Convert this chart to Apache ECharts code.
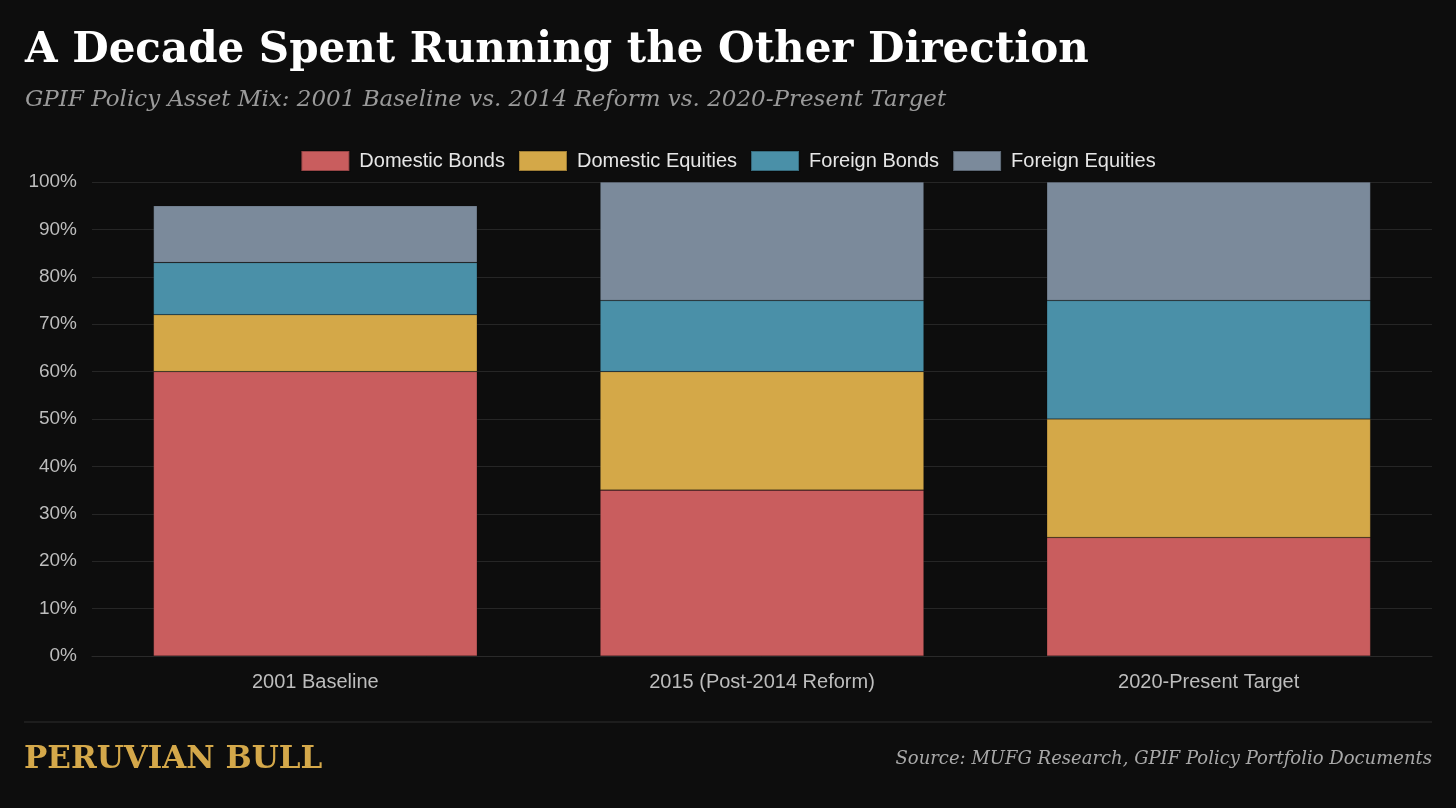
<!DOCTYPE html>
<html><head><meta charset="utf-8">
<script src="https://cdn.jsdelivr.net/npm/echarts@6/dist/echarts.min.js"></script>
<style>html,body{margin:0;padding:0;background:#0d0d0d;}#c{width:1456px;height:808px;}</style>
</head><body><div id="c"></div>
<script>
const categories = ['2001 Baseline', '2015 (Post-2014 Reform)', '2020-Present Target'];
const domesticBonds = [60, 35, 25];
const domesticEquities = [12, 25, 25];
const foreignBonds = [11, 15, 25];
const foreignEquities = [12, 25, 25];
const seriesNames = ['Domestic Bonds', 'Domestic Equities', 'Foreign Bonds', 'Foreign Equities'];
const colors = ['#c95d5e', '#d4a848', '#4a90a8', '#7b8a9b'];

const chart = echarts.init(document.getElementById('c'));
const data = [domesticBonds, domesticEquities, foreignBonds, foreignEquities];
chart.setOption({
  backgroundColor: '#0d0d0d',
  animation: false,
  title: [
    { text: 'A Decade Spent Running the Other Direction', left: 20, top: 25,
      textStyle: { color: '#ffffff', fontFamily: 'DejaVu Serif', fontWeight: 'bold', fontSize: 42 } },
    { text: 'GPIF Policy Asset Mix: 2001 Baseline vs. 2014 Reform vs. 2020-Present Target', left: 20, top: 84,
      textStyle: { color: '#9a9a9a', fontFamily: 'DejaVu Serif', fontStyle: 'italic', fontWeight: 'normal', fontSize: 23 } },
    { text: 'PERUVIAN BULL', left: 19, top: 739,
      textStyle: { color: '#d4a84a', fontFamily: 'DejaVu Serif', fontWeight: 'bold', fontSize: 31 } },
    { text: 'Source: MUFG Research, GPIF Policy Portfolio Documents', right: 19, top: 745,
      textStyle: { color: '#a8a8a8', fontFamily: 'DejaVu Serif', fontStyle: 'italic', fontWeight: 'normal', fontSize: 18 } }
  ],
  graphic: [
    { type: 'line', shape: { x1: 24, y1: 722, x2: 1432, y2: 722 }, style: { stroke: '#2e2e2e', lineWidth: 1 } }
  ],
  legend: {
    top: 145, left: 'center', itemWidth: 48, itemHeight: 20, itemGap: 13,
    icon: 'rect',
    textStyle: { color: '#e6e6e6', fontSize: 20, fontFamily: 'Liberation Sans', padding: [0, 0, 0, 5] },
    data: seriesNames
  },
  grid: { left: 92, right: 24, top: 182, bottom: 152 },
  xAxis: {
    type: 'category', data: categories,
    axisLine: { lineStyle: { color: '#2a2a2a' } },
    axisTick: { show: false },
    axisLabel: { color: '#bdbdbd', fontSize: 20, fontFamily: 'Liberation Sans', margin: 16 }
  },
  yAxis: {
    type: 'value', min: 0, max: 100, interval: 10,
    axisLine: { show: false }, axisTick: { show: false },
    splitLine: { lineStyle: { color: '#262626' } },
    axisLabel: { color: '#bdbdbd', fontSize: 19, fontFamily: 'Liberation Sans', formatter: '{value}%', margin: 15 }
  },
  series: seriesNames.map((n, i) => ({
    name: n, type: 'bar', stack: 'total', barWidth: '72.5%',
    data: data[i],
    itemStyle: { color: colors[i], borderColor: 'rgba(0,0,0,0.25)', borderWidth: 0.6 }
  }))
});
</script></body></html>
